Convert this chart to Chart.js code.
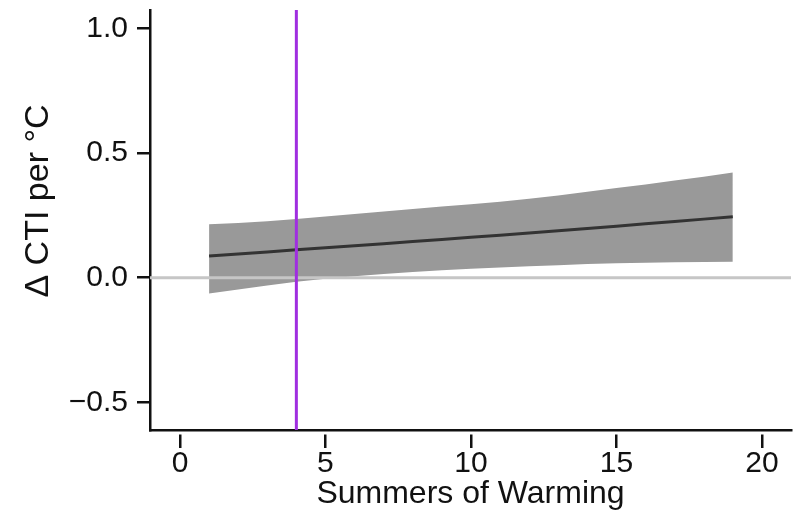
<!DOCTYPE html>
<html lang="en">
  <head>
    <meta charset="UTF-8" />
    <title>CTI per degree vs summers of warming</title>
    <script src="https://cdn.jsdelivr.net/npm/chart.js"></script>
    <style>
      html, body { margin: 0; padding: 0; background: #ffffff; }
      #wrap { width: 800px; height: 525px; }
    </style>
  </head>
  <body>
    <div id="wrap"><canvas id="myChart" width="800" height="525"></canvas></div>

    <script>
      // values
      const summers = [1, 2, 3, 4, 5, 6, 7, 8, 9, 10, 11, 12, 13, 14, 15, 16, 17, 18, 19];
      const fitCTI = [0.087, 0.095, 0.103, 0.112, 0.120, 0.128, 0.136, 0.145, 0.153, 0.162,
                      0.170, 0.179, 0.188, 0.197, 0.206, 0.216, 0.225, 0.235, 0.245];
      const upperCI = [0.214, 0.219, 0.226, 0.236, 0.246, 0.256, 0.266, 0.276, 0.286, 0.295,
                       0.305, 0.317, 0.330, 0.345, 0.360, 0.374, 0.390, 0.405, 0.422];
      const lowerCI = [-0.063, -0.047, -0.031, -0.016, -0.004, 0.006, 0.015, 0.023, 0.030, 0.036,
                       0.041, 0.046, 0.050, 0.055, 0.058, 0.060, 0.062, 0.063, 0.064];
      const markerSummer = 4;
      const xTicks = [0, 5, 10, 15, 20];
      const yTicks = [-0.5, 0, 0.5, 1.0];

      const xMin = -1.03, xMax = 21.0;
      const yMin = -0.611, yMax = 1.074;

      const pts = (ys) => summers.map((s, i) => ({ x: s, y: ys[i] }));

      // y title drawn by hand so it can sit where the original has it
      const yTitlePlugin = {
        id: "yTitle",
        afterDraw(chart) {
          const { ctx } = chart;
          ctx.save();
          ctx.translate(39, 201);
          ctx.rotate(-Math.PI / 2);
          ctx.textAlign = "center";
          ctx.textBaseline = "middle";
          ctx.font = "34px 'Liberation Sans', Arial, sans-serif";
          ctx.fillStyle = "#111";
          ctx.fillText("\u0394 CTI per \u00B0C", 0, 0);
          ctx.restore();
        },
      };

      const ctx = document.getElementById("myChart").getContext("2d");

      new Chart(ctx, {
        type: "line",
        data: {
          datasets: [
            {
              data: [{ x: markerSummer, y: yMin }, { x: markerSummer, y: yMax }],
              borderColor: "#a02ee0",
              borderWidth: 3,
              pointRadius: 0,
              fill: false,
              order: 0,
            },
            {
              data: pts(fitCTI),
              borderColor: "#333333",
              borderWidth: 3,
              pointRadius: 0,
              fill: false,
              order: 1,
            },
            {
              data: [{ x: xMin, y: 0 }, { x: xMax, y: 0 }],
              borderColor: "#c6c6c6",
              borderWidth: 3,
              pointRadius: 0,
              fill: false,
              order: 2,
            },
            {
              data: pts(upperCI),
              borderWidth: 0,
              borderColor: "rgba(0,0,0,0)",
              backgroundColor: "#999999",
              pointRadius: 0,
              fill: 4,
              order: 3,
            },
            {
              data: pts(lowerCI),
              borderWidth: 0,
              borderColor: "rgba(0,0,0,0)",
              pointRadius: 0,
              fill: false,
              order: 4,
            },
          ],
        },
        options: {
          responsive: false,
          animation: false,
          layout: { padding: { left: 0, right: 9, top: 10, bottom: 0 } },
          plugins: {
            legend: { display: false },
            tooltip: { enabled: false },
          },
          scales: {
            x: {
              type: "linear",
              min: xMin,
              max: xMax,
              afterBuildTicks(scale) {
                scale.ticks = xTicks.map((v) => ({ value: v }));
              },
              afterFit(scale) {
                scale.height = 95;
                scale.paddingLeft = 0;
                scale.paddingRight = 0;
              },
              ticks: {
                color: "#111",
                padding: -2,
                font: { family: "'Liberation Sans', Arial", size: 30 },
              },
              grid: {
                drawOnChartArea: false,
                tickLength: 18,
                // small gap between axis line and tick marks, like the original
                tickBorderDash: [0, 3, 20],
                color: "#111",
                lineWidth: 2.5,
              },
              border: { color: "#111", width: 2.5 },
              title: {
                display: true,
                text: "Summers of Warming",
                color: "#111",
                font: { family: "'Liberation Sans', Arial", size: 32 },
                padding: { top: 0, bottom: 12 },
              },
            },
            y: {
              min: yMin,
              max: yMax,
              afterBuildTicks(scale) {
                scale.ticks = yTicks.map((v) => ({ value: v }));
              },
              afterFit(scale) {
                scale.width = 150;
                scale.paddingTop = 0;
                scale.paddingBottom = 0;
              },
              ticks: {
                color: "#111",
                padding: 9,
                font: { family: "'Liberation Sans', Arial", size: 30 },
                callback: (v) => v.toFixed(1).replace("-", "\u2212"),
              },
              grid: {
                drawOnChartArea: false,
                tickLength: 13,
                color: "#111",
                lineWidth: 2.5,
              },
              border: { color: "#111", width: 2.5 },
            },
          },
        },
        plugins: [yTitlePlugin],
      });
    </script>
  </body>
</html>
